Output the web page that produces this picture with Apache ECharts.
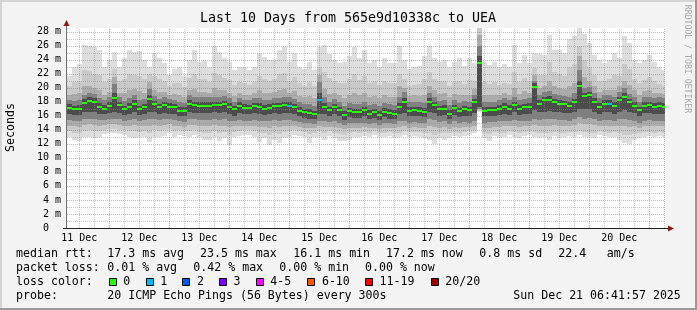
<!DOCTYPE html>
<html><head><meta charset="utf-8">
<script src="https://cdn.jsdelivr.net/npm/echarts@6/dist/echarts.min.js"></script>
<style>html,body{margin:0;padding:0;background:#f3f3f3}#c{width:697px;height:310px}</style>
</head><body><div id="c"></div>
<script>
// x axis in hours after 11 Dec 00:00
const startHour = 7.1;
const endHour = 246.3;
const stepHours = 2;

const dayLabels = ['11 Dec','12 Dec','13 Dec','14 Dec','15 Dec','16 Dec','17 Dec','18 Dec','19 Dec','20 Dec'];
const dayLabelHours = [12,36,60,84,108,132,156,180,204,228];

// median rtt (ms) per 2h step
const median = [17.05,16.9,17.0,17.85,18.1,18.0,17.2,17.0,17.4,18.5,17.5,16.9,17.3,17.7,16.9,17.2,18.4,17.6,17.2,17.5,17.3,17.2,16.7,16.7,
17.7,17.5,17.4,17.45,17.45,17.5,17.5,17.6,17.3,16.9,17.4,17.1,17.05,17.35,17.3,17.0,17.1,17.35,17.35,17.5,17.4,17.2,16.7,16.5,
16.4,16.2,18.2,17.3,16.8,17.2,16.8,16.15,16.65,16.5,16.5,16.8,16.25,16.5,16.15,16.6,16.45,16.3,17.3,17.9,16.7,16.8,16.7,16.6,
17.95,17.5,16.9,17.0,16.25,17.05,16.65,16.9,16.75,17.9,23.5,16.7,16.85,16.8,17.0,17.3,17.0,17.55,17.0,17.25,17.3,20.1,17.7,18.2,
18.3,17.95,17.7,17.6,17.45,17.95,20.2,18.8,18.9,18.0,17.3,17.7,17.7,17.4,18.2,18.7,17.95,17.4,16.8,17.45,17.5,17.3,17.4,17.3];

// lost pings out of 20 per step
const loss = [0,0,0,0,0,0,0,0,0,0,0,0,0,0,0,0,0,0,0,0,0,0,0,0,
0,0,0,0,0,0,0,0,0,0,0,0,0,0,0,0,0,0,0,0,1,0,0,0,
0,0,1,0,0,0,0,0,0,0,0,0,0,0,0,0,0,0,0,0,0,0,0,0,
0,0,0,0,0,0,0,0,0,0,0,0,0,0,0,0,0,0,0,0,0,0,0,0,
0,0,0,0,0,0,0,0,0,0,0,0,1,0,0,0,0,0,0,0,0,0,0,0];

// smoke: highest ping
const maxV = [21.6,23.0,23.4,26.1,25.9,25.8,25.3,23.0,23.9,25.1,23.0,24.2,25.3,25.1,25.2,24.0,23.0,24.9,24.2,23.5,21.8,22.7,23.0,21.6,
24.0,25.3,23.7,23.8,23.0,25.9,25.1,24.2,23.7,22.5,23.0,23.0,22.5,23.0,24.9,24.4,23.9,24.0,25.3,25.8,23.7,24.9,23.0,22.7,
23.7,22.5,25.8,26.1,24.8,23.9,23.5,23.7,24.5,25.8,24.2,25.3,23.5,23.9,23.0,24.2,23.5,23.5,25.9,23.9,22.7,23.0,23.1,24.5,
25.9,24.2,23.7,23.9,23.0,23.7,24.2,23.1,24.2,23.5,28.5,23.7,23.2,23.7,23.0,23.4,23.0,26.1,23.5,24.6,23.5,24.9,24.8,24.6,
27.5,25.3,25.3,24.9,27.0,27.3,28.5,27.7,26.4,24.6,23.9,23.5,23.9,24.9,24.2,27.3,26.4,24.0,23.5,24.0,24.6,23.7,23.0,22.5];
const hi2 = [20.2,20.8,21.0,22.5,22.4,22.0,21.8,20.8,21.2,22.6,20.9,21.3,21.9,21.8,21.6,21.2,22.0,21.7,21.3,21.0,20.3,20.6,20.7,20.1,
21.4,21.9,21.2,21.2,20.8,22.1,21.8,21.4,21.1,20.4,20.8,20.7,20.4,20.8,21.6,21.3,21.0,21.2,21.9,22.1,21.0,21.5,20.6,20.3,
20.8,20.2,23.0,22.2,21.4,21.0,20.7,20.6,21.2,21.9,21.1,21.6,20.6,20.9,20.4,21.0,20.6,20.6,22.0,21.2,20.2,20.4,20.5,21.2,
22.2,21.3,20.9,21.0,20.3,20.8,21.0,20.5,21.1,21.0,28.5,20.8,20.5,20.8,20.4,20.7,20.5,22.3,20.8,21.4,20.9,22.8,21.8,21.8,
23.6,22.2,22.0,21.7,23.0,23.4,26.0,24.0,23.0,21.8,21.0,20.9,21.2,21.8,21.6,23.4,22.6,21.2,20.7,21.1,21.5,20.9,20.5,20.2];
const hi3 = [18.9,19.1,19.3,20.2,20.3,20.0,19.6,19.0,19.4,21.5,19.2,19.3,19.7,19.8,19.5,19.3,20.8,19.7,19.4,19.4,19.0,19.1,18.9,18.7,
19.6,19.8,19.4,19.4,19.2,19.9,19.7,19.6,19.3,18.8,19.2,19.0,18.9,19.2,19.6,19.3,19.2,19.4,19.7,19.8,19.3,19.5,18.8,18.6,
18.8,18.5,21.8,19.8,19.1,19.3,18.9,18.5,18.9,19.3,18.9,19.2,18.6,18.8,18.5,18.9,18.7,18.7,20.2,20.0,18.8,18.9,18.8,19.0,
20.3,19.6,19.1,19.2,18.6,19.1,18.9,19.0,19.0,19.8,27.5,19.0,18.9,19.0,19.0,19.3,19.0,19.9,19.1,19.5,19.3,21.8,20.0,20.3,
21.0,20.3,20.0,19.8,20.2,20.6,24.5,21.5,21.0,20.2,19.4,19.6,19.6,19.6,20.2,21.0,20.4,19.6,19.0,19.5,19.6,19.3,19.3,19.1];
const hi4 = [18.2,18.1,18.2,19.0,19.3,19.1,18.5,18.2,18.6,20.5,18.6,18.1,18.5,18.9,18.2,18.4,19.8,18.8,18.4,18.7,18.4,18.3,17.9,17.8,
18.9,18.7,18.6,18.6,18.6,18.7,18.7,18.8,18.5,18.0,18.5,18.2,18.2,18.5,18.5,18.2,18.3,18.5,18.5,18.7,18.6,18.4,17.9,17.7,
17.6,17.4,20.8,18.6,18.0,18.4,18.0,17.4,17.8,17.7,17.7,18.0,17.5,17.7,17.4,17.8,17.6,17.5,18.6,19.4,17.9,18.0,17.9,17.8,
19.2,18.7,18.1,18.2,17.5,18.2,17.8,18.1,17.9,19.0,26.0,17.9,18.0,18.0,18.2,18.5,18.2,18.7,18.2,18.4,18.5,21.0,18.9,19.4,
19.5,19.1,18.9,18.8,18.7,19.2,22.5,20.0,20.1,19.2,18.5,18.9,18.9,18.6,19.4,19.9,19.1,18.6,18.0,18.6,18.7,18.5,18.6,18.5];
const hi5 = [17.6,17.4,17.5,18.4,18.6,18.5,17.8,17.5,17.9,19.2,18.0,17.4,17.8,18.2,17.4,17.7,18.9,18.1,17.7,18.0,17.8,17.7,17.2,17.2,
18.2,18.0,17.9,17.9,17.9,18.0,18.0,18.1,17.8,17.4,17.9,17.6,17.5,17.8,17.8,17.5,17.6,17.8,17.8,18.0,17.9,17.7,17.2,17.0,
16.9,16.7,19.2,17.8,17.3,17.7,17.3,16.7,17.1,17.0,17.0,17.3,16.8,17.0,16.7,17.1,16.9,16.8,17.8,18.5,17.2,17.3,17.2,17.1,
18.5,18.0,17.4,17.5,16.8,17.5,17.1,17.4,17.2,18.4,24.5,17.2,17.3,17.3,17.5,17.8,17.5,18.0,17.5,17.7,17.8,20.6,18.2,18.7,
18.8,18.4,18.2,18.1,17.9,18.4,21.0,19.3,19.4,18.5,17.8,18.2,18.2,17.9,18.7,19.2,18.4,17.9,17.3,17.9,18.0,17.8,17.9,17.8];
const lo5 = [16.2,16.1,16.1,16.5,16.6,16.5,16.3,16.2,16.4,16.6,16.4,16.1,16.3,16.5,16.1,16.3,16.5,16.5,16.3,16.4,16.3,16.3,15.9,15.9,
16.5,16.4,16.4,16.4,16.4,16.5,16.4,16.5,16.3,16.0,16.4,16.2,16.2,16.4,16.3,16.1,16.2,16.4,16.3,16.4,16.4,16.2,15.9,15.7,
15.6,15.5,16.3,16.3,15.9,16.2,15.9,15.4,15.8,15.7,15.7,15.9,15.5,15.7,15.4,15.8,15.6,15.5,16.2,16.4,15.9,16.0,15.9,15.8,
16.5,16.4,16.0,16.1,15.5,16.1,15.8,16.0,15.9,16.4,17.2,15.9,16.0,16.0,16.1,16.3,16.1,16.5,16.1,16.3,16.3,16.8,16.5,16.6,
16.7,16.6,16.5,16.4,16.4,16.6,17.0,16.9,16.9,16.6,16.3,16.5,16.5,16.3,16.6,16.8,16.6,16.4,15.9,16.4,16.4,16.3,16.3,16.3];
const lo4 = [15.4,15.3,15.2,15.5,15.6,15.5,15.4,15.4,15.5,15.6,15.5,15.3,15.4,15.5,15.3,15.4,15.5,15.5,15.4,15.5,15.5,15.4,15.2,15.1,
15.5,15.5,15.4,15.4,15.4,15.5,15.4,15.5,15.3,15.2,15.4,15.3,15.3,15.4,15.3,15.2,15.2,15.4,15.3,15.4,15.4,15.3,15.1,15.0,
14.9,14.8,15.3,15.3,15.1,15.2,15.0,14.7,15.0,14.9,14.9,15.0,14.8,14.9,14.7,15.0,14.9,14.8,15.2,15.3,15.0,15.1,15.0,15.0,
15.5,15.4,15.1,15.2,14.8,15.2,15.0,15.1,15.0,15.3,17.0,15.0,15.1,15.1,15.2,15.3,15.2,15.4,15.2,15.3,15.3,15.6,15.4,15.5,
15.5,15.5,15.4,15.4,15.3,15.5,15.8,15.6,15.7,15.5,15.3,15.4,15.4,15.3,15.5,15.5,15.4,15.3,15.0,15.3,15.4,15.3,15.3,15.3];
const lo3 = [14.6,14.5,14.4,14.7,14.8,14.7,14.6,14.7,14.8,14.8,14.7,14.6,14.6,14.7,14.5,14.6,14.6,14.7,14.6,14.7,14.8,14.6,14.5,14.4,
14.7,14.7,14.6,14.5,14.5,14.7,14.5,14.6,14.4,14.5,14.6,14.6,14.6,14.6,14.4,14.4,14.3,14.5,14.4,14.6,14.6,14.6,14.4,14.3,
14.2,14.2,14.5,14.4,14.4,14.4,14.2,14.1,14.3,14.3,14.3,14.4,14.2,14.3,14.1,14.3,14.3,14.2,14.4,14.5,14.3,14.4,14.3,14.3,
14.6,14.4,14.3,14.4,14.1,14.4,14.3,14.4,14.4,14.6,16.9,14.3,14.3,14.4,14.4,14.5,14.5,14.6,14.4,14.5,14.6,14.7,14.6,14.6,
14.6,14.7,14.6,14.6,14.6,14.7,14.9,14.8,14.8,14.7,14.6,14.6,14.6,14.6,14.6,14.5,14.4,14.5,14.3,14.5,14.6,14.5,14.6,14.5];
const lo2 = [13.8,13.6,13.5,13.8,13.9,13.8,13.8,14.0,14.1,14.1,14.0,13.9,13.8,13.8,13.7,13.8,13.6,13.9,13.8,13.9,14.1,13.8,13.9,13.8,
13.8,13.9,13.7,13.6,13.5,13.8,13.5,13.7,13.3,13.7,13.8,13.9,13.9,13.8,13.5,13.6,13.3,13.6,13.4,13.7,13.8,13.9,13.8,13.7,
13.4,13.6,13.8,13.5,13.8,13.6,13.4,13.3,13.5,13.7,13.6,13.7,13.6,13.8,13.6,13.6,13.7,13.5,13.6,13.8,13.7,13.7,13.7,13.6,
13.6,13.3,13.6,13.5,13.5,13.7,13.6,13.7,13.8,14.0,16.7,13.6,13.4,13.7,13.6,13.6,13.8,13.7,13.6,13.7,13.8,13.7,13.6,13.6,
13.5,13.7,13.6,13.6,13.7,13.7,13.8,13.7,13.6,13.6,13.8,13.7,13.6,13.7,13.5,13.3,13.2,13.4,13.6,13.7,13.7,13.6,13.7,13.6];
// smoke: lowest ping
const minV = [13.0,12.5,12.4,13.0,13.0,12.8,13.0,13.4,13.6,13.5,13.4,13.25,13.0,12.8,12.9,13.0,12.3,13.0,12.9,13.1,13.5,13.0,13.25,13.1,
12.9,13.25,12.9,12.6,12.5,13.0,12.4,12.8,11.8,12.9,13.1,13.25,13.25,13.0,12.3,12.8,11.8,12.5,12.15,12.8,13.0,13.25,13.1,12.9,
12.1,12.9,13.0,12.5,13.1,12.8,12.4,12.4,12.6,13.0,12.9,13.1,12.9,13.25,13.0,12.9,13.1,12.8,12.9,13.25,13.0,13.1,13.0,12.8,
12.5,12.0,12.8,12.5,12.8,13.1,12.9,13.1,13.25,13.5,16.5,12.8,12.4,13.1,12.8,12.9,13.25,13.0,12.8,13.1,13.25,13.0,12.8,12.9,
12.6,13.1,12.8,12.9,13.1,13.0,13.25,13.0,12.9,12.8,13.25,13.1,12.9,13.0,12.6,12.1,12.0,12.5,12.8,13.0,13.1,12.9,13.1,13.0];

const lossLegend = ['0','1','2','3','4-5','6-10','11-19','20/20'];
const lossColors = ['#26ff00','#00b8ff','#0059ff','#7e00ff','#ff00ff','#ff5500','#ff0000','#a10000'];
function lossColor(n){
  if (n<=0) return lossColors[0]; if (n===1) return lossColors[1]; if (n===2) return lossColors[2];
  if (n===3) return lossColors[3]; if (n<=5) return lossColors[4]; if (n<=10) return lossColors[5];
  if (n<20) return lossColors[6]; return lossColors[7];
}

const smokeData = median.map((m,k)=>[startHour+k*stepHours, startHour+(k+1)*stepHours,
  minV[k], lo2[k], lo3[k], lo4[k], lo5[k], hi5[k], hi4[k], hi3[k], hi2[k], maxV[k]]);
const medianData = median.map((m,k)=>[startHour+k*stepHours, startHour+(k+1)*stepHours, m, loss[k]]);
const shades = ['#dddddd','#c9c9c9','#ababab','#808080','#4c4c4c'];

const gridData = [];
for (let v=1; v<=28; v++) gridData.push([0, v, v%2===0?1:0]);
for (let h=12; h<endHour; h+=6) gridData.push([1, h, h%24===0?1:0]);

const FONT = '"DejaVu Sans Mono", monospace';
function txt(text, x, y, size, opt){
  opt = opt || {};
  return {type:'text', x:x, y:y, rotation: opt.rot||0, silent:true,
    style:{text:text, fill: opt.color||'#000', font: size+'px '+FONT,
      align: opt.align||'left', verticalAlign:'middle', textAlign: opt.align||'left', textVerticalAlign:'middle'}};
}

const graphics = [
  {type:'rect', shape:{x:0,y:0,width:697,height:2}, style:{fill:'#d4d4d4'}, silent:true},
  {type:'rect', shape:{x:0,y:0,width:2,height:310}, style:{fill:'#d4d4d4'}, silent:true},
  {type:'rect', shape:{x:0,y:308,width:697,height:2}, style:{fill:'#9a9a9a'}, silent:true},
  {type:'rect', shape:{x:695,y:0,width:2,height:310}, style:{fill:'#9a9a9a'}, silent:true},
  txt('Last 10 Days from 565e9d10338c to UEA', 348, 19, 13.3, {align:'center'}),
  txt('Seconds', 10.5, 127.5, 11.6, {align:'center', rot: Math.PI/2}),
  txt('RRDTOOL / TOBI OETIKER', 687, 59, 8.2, {align:'center', rot: -Math.PI/2, color:'#a8a8a8'}),
  // axes
  {type:'line', shape:{x1:66.5,y1:228,x2:66.5,y2:24}, style:{stroke:'#707070',lineWidth:1}, z:100, silent:true},
  {type:'line', shape:{x1:63,y1:228.5,x2:669,y2:228.5}, style:{stroke:'#202020',lineWidth:1}, z:100, silent:true},
  {type:'polygon', shape:{points:[[63.5,26],[69.5,26],[66.5,20]]}, style:{fill:'#901818'}, z:101, silent:true},
  {type:'polygon', shape:{points:[[668,225.5],[668,231.5],[674,228.5]]}, style:{fill:'#901818'}, z:101, silent:true},
];
const rowY = [254, 268.3, 282.3, 296];
[['median rtt:',16],['17.3 ms avg',107.3],['23.5 ms max',200],['16.1 ms min',293.3],['17.2 ms now',386],['0.8 ms sd',479.3],['22.4',558.3],['am/s',606.7]]
  .forEach(a=>graphics.push(txt(a[0], a[1], rowY[0], 11.6)));
[['packet loss:',16],['0.01 % avg',107.3],['0.42 % max',193.3],['0.00 % min',279.3],['0.00 % now',365]]
  .forEach(a=>graphics.push(txt(a[0], a[1], rowY[1], 11.6)));
graphics.push(txt('loss color:', 16, rowY[2], 11.6));
const boxX = [108.7,145.7,182.3,219,255.7,307.3,365,430.7];
lossLegend.forEach((l,i)=>{
  graphics.push({type:'rect', shape:{x:Math.round(boxX[i])+0.5, y:278.5, width:7, height:7}, style:{fill:lossColors[i], stroke:'#000', lineWidth:1}, silent:true});
  graphics.push(txt(l, boxX[i]+14.6, rowY[2], 11.6));
});
graphics.push(txt('probe:', 16, rowY[3], 11.6));
graphics.push(txt('20 ICMP Echo Pings (56 Bytes) every 300s', 107.3, rowY[3], 11.6));
graphics.push(txt('Sun Dec 21 06:41:57 2025', 513.3, rowY[3], 11.6));

const chart = echarts.init(document.getElementById('c'), null, {renderer:'canvas'});
chart.setOption({
  animation:false,
  backgroundColor:'#f3f3f3',
  grid:{left:67, top:28, width:598, height:200, show:true, backgroundColor:'#ffffff', borderWidth:0},
  xAxis:{type:'value', min:startHour, max:endHour,
    axisLine:{show:false}, axisTick:{show:false}, splitLine:{show:false},
    axisLabel:{customValues: dayLabelHours, formatter:v=>dayLabels[dayLabelHours.indexOf(v)]||'',
      fontFamily:'DejaVu Sans Mono', fontSize:10, color:'#000', margin:5}},
  yAxis:{type:'value', min:0, max:28.5, interval:2,
    axisLine:{show:false}, axisTick:{show:false}, splitLine:{show:false},
    axisLabel:{formatter:v=> v===0 ? '0  ' : (v%2===0 ? v+' m' : ''), showMaxLabel:false,
      fontFamily:'DejaVu Sans Mono', fontSize:10, color:'#000', margin:6}},
  graphic: graphics,
  series:[
    {type:'custom', z:2, clip:true, data:smokeData, encode:{x:[0,1], y:[2,11]},
      renderItem:function(params, api){
        const xs=api.value(0), xe=api.value(1); const ch=[];
        for (let i=0;i<5;i++){
          const lo=api.value(2+i), hi=api.value(11-i);
          const p0=api.coord([xs,hi]), p1=api.coord([xe,lo]);
          const x0=Math.round(p0[0]), x1=Math.round(p1[0]), y0=Math.round(p0[1]), y1=Math.round(p1[1]);
          ch.push({type:'rect', shape:{x:x0,y:y0,width:x1-x0,height:y1-y0}, style:{fill:shades[i]}});
        }
        return {type:'group', children:ch};
      }},
    {type:'custom', z:3, clip:true, data:gridData, encode:{x:1, y:1},
      renderItem:function(params, api){
        const kind=api.value(0), v=api.value(1), major=api.value(2);
        const col = major ? 'rgba(225,80,80,0.55)' : 'rgba(140,140,140,0.5)';
        if (kind===0){
          const a=api.coord([startHour,v]), b=api.coord([endHour,v]); const y=Math.round(a[1])+0.5;
          return {type:'line', shape:{x1:a[0],y1:y,x2:b[0],y2:y}, style:{stroke:col,lineWidth:1,lineDash:[1,1]}};
        } else {
          const a=api.coord([v,0]), b=api.coord([v,28.5]); const x=Math.round(a[0])+0.5;
          return {type:'line', shape:{x1:x,y1:a[1],x2:x,y2:b[1]}, style:{stroke:col,lineWidth:1,lineDash:[1,1]}};
        }
      }},
    {type:'custom', z:4, clip:true, data:medianData, encode:{x:[0,1], y:2},
      renderItem:function(params, api){
        const xs=api.value(0), xe=api.value(1), m=api.value(2), l=api.value(3);
        const p0=api.coord([xs,m]), p1=api.coord([xe,m]);
        const x0=Math.round(p0[0]), x1=Math.round(p1[0]), y=Math.round(p0[1]);
        return {type:'rect', shape:{x:x0,y:y-1,width:x1-x0,height:2}, style:{fill:lossColor(l)}};
      }}
  ]
});
</script></body></html>
